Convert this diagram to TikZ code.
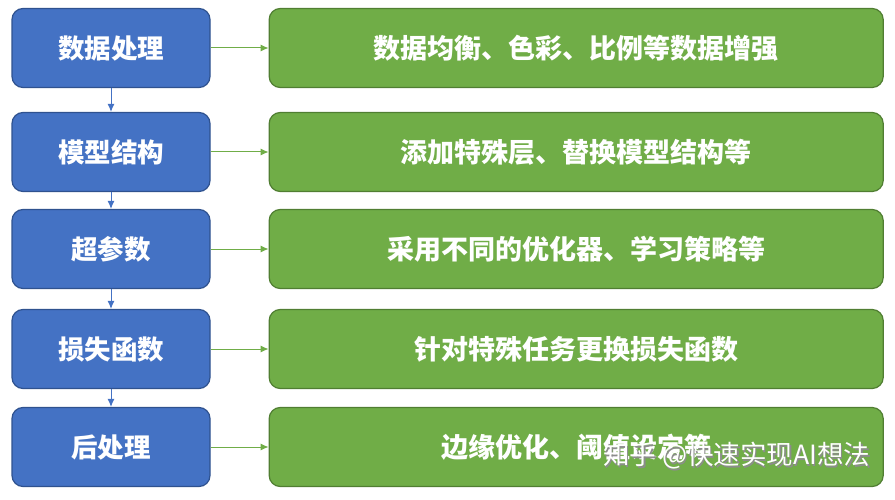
\documentclass[tikz,border=0pt]{standalone}
\usepackage{fontspec}
\setmainfont{Noto Sans CJK SC}
\usetikzlibrary{positioning}
\usetikzlibrary{arrows.meta}
\definecolor{stepblue}{HTML}{4472C4}
\definecolor{stepblueline}{HTML}{2F528F}
\definecolor{stepgreen}{HTML}{70AD47}
\definecolor{stepgreenline}{HTML}{507E32}

\begin{document}
\begin{tikzpicture}[x=1pt,y=-1pt,
	stage/.style={rectangle,rounded corners=11pt,draw=stepblueline,line width=1.2pt,fill=stepblue,text=white,minimum width=198pt,minimum height=79pt,inner sep=0pt,font=\fontsize{26.5}{30}\selectfont\bfseries},
	detail/.style={rectangle,rounded corners=11pt,draw=stepgreenline,line width=1.2pt,fill=stepgreen,text=white,minimum width=614pt,minimum height=79pt,inner sep=0pt,font=\fontsize{27}{30}\selectfont\bfseries},
	down/.style={-{Latex[length=8pt,width=7pt]},draw=stepblue,line width=1pt},
	across/.style={-{Latex[length=8pt,width=7pt]},draw=stepgreen,line width=1pt}
	]
	\useasboundingbox (0,0) rectangle (895,500);
	\node[stage](p1) at (111,48){数据处理};
	\node[stage](p2) at (111,152){模型结构};
	\node[stage](p3) at (111,249){超参数};
	\node[stage](p4) at (111,349){损失函数};
	\node[stage](p5) at (111,447){后处理};
	\node[detail,right=58pt of p1](q1){数据均衡、色彩、比例等数据增强};
	\node[detail,right=58pt of p2](q2){添加特殊层、替换模型结构等};
	\node[detail,right=58pt of p3](q3){采用不同的优化器、学习策略等};
	\node[detail,right=58pt of p4](q4){针对特殊任务更换损失函数};
	\node[detail,right=58pt of p5](q5){边缘优化、阈值设定等};
	\draw[down] (p1) -- (p2);
	\draw[down] (p2) -- (p3);
	\draw[down] (p3) -- (p4);
	\draw[down] (p4) -- (p5);
	\draw[across] (p1) -- (q1);
	\draw[across] (p2) -- (q2);
	\draw[across] (p3) -- (q3);
	\draw[across] (p4) -- (q4);
	\draw[across] (p5) -- (q5);
	% watermark
	\node[draw=none,text=black!45,font=\fontsize{26.5}{30}\selectfont,anchor=west,inner sep=0pt](wm0) at (604.5,457.5){知乎 @快速实现AI想法};
	\node[draw=none,text=white,font=\fontsize{26.5}{30}\selectfont,anchor=west,inner sep=0pt](wm) at (603,456){知乎 @快速实现AI想法};
\end{tikzpicture}
\end{document}
